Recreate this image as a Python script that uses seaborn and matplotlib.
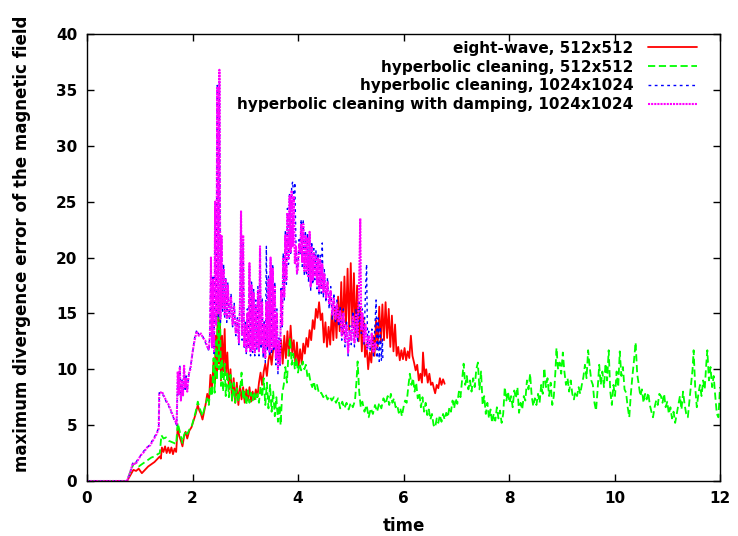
import matplotlib
matplotlib.use("Agg")
import matplotlib.pyplot as plt
import seaborn as sns
import pandas as pd

# ---------------- data (time, max divergence error) ----------------
eight_wave_512 = [
(0.00,0),(0.76,0),(0.82,0.5),(0.88,1.0),(0.93,0.9),(0.98,1.1),(1.04,0.7),(1.10,1.0),(1.16,1.3),(1.22,1.5),
(1.28,1.7),(1.34,2.0),(1.38,2.2),(1.40,2.0),(1.42,3.0),(1.45,2.6),(1.48,3.1),(1.51,2.5),(1.54,3.0),(1.57,2.5),
(1.60,3.0),(1.63,2.4),(1.66,2.9),(1.69,2.6),(1.72,4.8),(1.75,4.0),(1.78,3.6),(1.81,3.1),(1.84,4.0),(1.87,4.4),
(1.90,3.8),(1.94,4.5),(1.98,4.8),(2.02,5.4),(2.06,6.0),(2.10,6.8),(2.13,6.3),(2.16,6.0),(2.19,5.5),(2.22,6.2),
(2.25,6.9),(2.28,7.8),(2.31,7.0),(2.34,9.5),(2.37,8.3),(2.40,10.8),(2.42,8.8),(2.44,13.0),(2.46,9.5),(2.48,16.5),
(2.50,10.5),(2.52,14.6),(2.54,9.0),(2.56,13.0),(2.58,9.8),(2.61,13.6),(2.63,9.5),(2.66,11.5),(2.69,8.2),(2.72,10.0),
(2.75,7.2),(2.78,9.2),(2.81,7.0),(2.84,8.8),(2.87,6.8),(2.90,8.5),(2.93,7.3),(2.96,8.4),(2.99,7.0),(3.02,8.2),
(3.05,7.2),(3.08,8.4),(3.11,7.1),(3.14,8.0),(3.17,7.3),(3.20,8.2),(3.23,7.5),(3.26,8.8),(3.29,9.7),(3.32,8.6),
(3.35,9.8),(3.38,10.5),(3.41,9.4),(3.44,10.8),(3.47,11.5),(3.50,10.4),(3.53,11.8),(3.56,12.4),(3.59,11.0),(3.62,12.2),
(3.65,10.8),(3.68,12.6),(3.71,10.5),(3.74,13.0),(3.77,11.0),(3.80,13.4),(3.83,11.2),(3.86,13.9),(3.89,11.5),(3.92,12.6),
(3.95,10.4),(3.98,12.4),(4.01,10.2),(4.04,11.8),(4.07,10.5),(4.10,12.3),(4.13,11.4),(4.16,12.8),(4.19,12.0),(4.22,13.5),
(4.25,12.6),(4.28,14.4),(4.31,13.6),(4.34,15.4),(4.37,14.6),(4.40,16.0),(4.43,14.4),(4.46,15.0),(4.49,12.4),(4.52,14.2),
(4.55,12.0),(4.58,13.8),(4.61,12.2),(4.64,15.0),(4.67,12.6),(4.70,15.6),(4.73,12.8),(4.76,16.5),(4.79,13.4),(4.82,17.8),
(4.85,13.2),(4.88,18.3),(4.91,14.0),(4.94,19.0),(4.97,13.5),(5.00,19.5),(5.03,13.8),(5.06,18.6),(5.09,13.0),(5.12,17.5),
(5.15,12.5),(5.18,15.5),(5.21,11.6),(5.24,14.6),(5.27,11.1),(5.30,12.2),(5.33,10.0),(5.36,11.5),(5.39,10.6),(5.42,13.0),
(5.45,11.2),(5.48,14.4),(5.51,12.0),(5.54,15.6),(5.57,12.4),(5.60,15.8),(5.63,12.6),(5.66,16.0),(5.69,12.8),(5.72,15.4),
(5.75,12.0),(5.78,14.8),(5.81,11.6),(5.84,14.0),(5.87,11.2),(5.90,12.0),(5.93,10.8),(5.96,11.7),(5.99,10.9),(6.02,11.9),
(6.05,10.8),(6.08,11.6),(6.11,11.0),(6.14,13.0),(6.17,11.2),(6.20,10.6),(6.23,9.9),(6.26,10.4),(6.29,9.0),(6.32,9.6),
(6.35,8.8),(6.37,11.5),(6.40,9.4),(6.43,10.0),(6.46,8.8),(6.49,9.6),(6.52,8.6),(6.55,8.8),(6.58,8.2),(6.60,7.85),
(6.63,8.6),(6.66,8.3),(6.69,9.2),(6.72,8.6),(6.75,9.1),(6.78,8.7)]

hyperbolic_512 = [
(0.00,0),(0.76,0),(0.82,0.8),(0.88,1.5),(0.93,1.6),(0.98,1.3),(1.04,1.5),(1.10,1.7),(1.16,1.9),(1.22,2.1),
(1.28,2.2),(1.34,2.4),(1.38,2.5),(1.41,4.1),(1.45,3.8),(1.50,3.9),(1.55,3.6),(1.60,3.5),(1.65,3.4),(1.69,3.3),
(1.72,5.2),(1.75,4.6),(1.78,4.0),(1.81,3.4),(1.84,4.1),(1.87,4.5),(1.90,4.2),(1.94,4.6),(1.98,4.8),(2.02,5.5),
(2.06,6.2),(2.10,7.1),(2.13,6.6),(2.16,6.2),(2.19,5.8),(2.22,6.4),(2.25,6.9),(2.28,7.4),(2.31,6.8),(2.34,8.5),
(2.37,7.6),(2.40,11.0),(2.42,7.9),(2.44,12.5),(2.46,9.0),(2.48,17.0),(2.50,10.0),(2.52,16.0),(2.54,8.5),(2.56,11.0),
(2.58,8.0),(2.61,10.5),(2.63,7.6),(2.66,9.8),(2.69,7.5),(2.72,9.5),(2.75,7.2),(2.78,8.8),(2.81,7.0),(2.84,8.3),
(2.87,7.1),(2.90,8.0),(2.93,9.7),(2.96,7.3),(2.99,8.0),(3.02,6.8),(3.05,8.1),(3.08,7.0),(3.11,7.9),(3.14,7.2),
(3.17,8.0),(3.20,7.2),(3.23,7.8),(3.26,7.0),(3.29,8.5),(3.32,7.5),(3.35,9.2),(3.38,6.8),(3.41,8.8),(3.44,6.5),
(3.47,8.6),(3.50,6.2),(3.53,8.0),(3.56,5.8),(3.59,7.5),(3.62,5.3),(3.65,6.8),(3.67,5.0),(3.70,7.8),(3.73,8.6),
(3.76,10.2),(3.79,8.8),(3.82,11.5),(3.85,12.8),(3.88,10.4),(3.91,11.4),(3.94,10.0),(3.97,11.0),(4.00,9.7),(4.03,10.5),
(4.06,9.9),(4.09,10.7),(4.12,10.0),(4.15,10.4),(4.18,9.3),(4.21,9.6),(4.24,8.8),(4.27,8.4),(4.30,8.9),(4.33,8.2),
(4.36,8.6),(4.40,7.8),(4.44,7.9),(4.48,7.5),(4.52,7.8),(4.56,7.3),(4.60,7.6),(4.64,7.2),(4.68,7.5),(4.72,7.0),
(4.76,7.4),(4.80,6.5),(4.84,7.1),(4.88,6.5),(4.92,7.0),(4.96,6.4),(5.00,7.0),(5.04,6.6),(5.08,7.2),(5.11,9.0),
(5.13,10.7),(5.16,8.0),(5.19,6.6),(5.22,7.1),(5.26,6.2),(5.30,6.8),(5.34,5.7),(5.38,6.5),(5.42,6.0),(5.46,6.8),
(5.50,6.2),(5.54,7.0),(5.58,6.5),(5.62,7.4),(5.66,6.9),(5.70,7.6),(5.73,6.8),(5.76,7.8),(5.79,7.0),(5.82,7.4),
(5.85,6.6),(5.88,6.8),(5.91,6.1),(5.94,6.5),(5.97,5.8),(6.00,6.6),(6.03,7.2),(6.06,7.0),(6.09,8.4),(6.12,9.6),
(6.15,8.6),(6.18,9.2),(6.21,8.0),(6.24,8.8),(6.27,7.4),(6.30,7.9),(6.33,6.6),(6.36,7.5),(6.39,6.2),(6.42,7.0),
(6.45,5.9),(6.48,6.4),(6.51,5.5),(6.54,6.0),(6.57,5.0),(6.60,4.8),(6.63,5.6),(6.66,5.2),(6.69,5.9),(6.72,5.3),
(6.75,6.0),(6.78,5.5),(6.81,6.1),(6.84,5.7),(6.87,6.6),(6.90,6.2),(6.93,7.2),(6.96,6.5),(6.99,7.4),(7.02,6.9),
(7.05,8.0),(7.08,7.5),(7.11,9.0),(7.14,10.5),(7.17,8.6),(7.20,9.4),(7.23,8.2),(7.26,9.0),(7.29,8.0),(7.32,9.2),
(7.35,8.4),(7.38,10.0),(7.41,10.6),(7.44,8.2),(7.47,9.8),(7.50,6.8),(7.53,7.6),(7.56,6.0),(7.59,7.0),(7.62,5.6),
(7.65,6.4),(7.68,5.2),(7.71,6.0),(7.74,5.4),(7.77,6.6),(7.80,5.6),(7.83,6.3),(7.86,5.2),(7.89,6.0),(7.92,8.4),
(7.95,7.2),(7.98,8.0),(8.01,7.0),(8.04,7.6),(8.07,6.6),(8.10,8.1),(8.13,7.4),(8.16,8.4),(8.19,6.1),(8.22,7.0),
(8.25,6.4),(8.28,7.6),(8.31,7.2),(8.34,9.0),(8.37,8.2),(8.40,9.6),(8.43,7.6),(8.46,6.7),(8.49,7.4),(8.52,6.8),
(8.55,7.8),(8.58,7.0),(8.61,8.6),(8.64,7.8),(8.67,10.1),(8.70,8.4),(8.73,9.2),(8.76,7.6),(8.79,8.8),(8.82,6.8),
(8.85,7.6),(8.88,9.8),(8.90,11.9),(8.93,10.0),(8.96,10.6),(8.99,9.6),(9.02,11.5),(9.05,9.8),(9.08,8.6),(9.11,9.2),
(9.14,8.0),(9.17,9.0),(9.20,7.8),(9.23,7.3),(9.26,8.0),(9.29,7.6),(9.32,8.4),(9.35,7.8),(9.38,8.6),(9.41,9.3),
(9.44,10.4),(9.47,9.2),(9.50,11.7),(9.53,10.2),(9.56,9.0),(9.59,8.6),(9.62,7.0),(9.65,6.3),(9.68,8.2),(9.71,10.4),
(9.74,8.6),(9.77,9.8),(9.80,8.4),(9.83,10.5),(9.86,9.0),(9.89,11.7),(9.92,8.0),(9.95,6.8),(9.98,8.6),(10.01,7.6),
(10.04,9.8),(10.07,8.4),(10.10,11.6),(10.13,9.4),(10.16,10.2),(10.19,8.2),(10.22,7.9),(10.25,6.6),(10.28,5.7),(10.31,7.8),
(10.34,9.4),(10.37,10.8),(10.40,12.4),(10.43,9.6),(10.46,8.6),(10.49,7.6),(10.52,8.2),(10.55,7.0),(10.58,7.8),(10.61,7.3),
(10.64,7.9),(10.67,6.8),(10.70,6.2),(10.73,5.7),(10.76,6.6),(10.79,7.2),(10.82,6.8),(10.85,7.8),(10.88,7.6),(10.91,7.0),
(10.94,7.8),(10.97,6.6),(11.00,7.1),(11.03,6.0),(11.06,6.6),(11.09,5.6),(11.12,6.2),(11.15,5.2),(11.18,6.0),(11.21,6.8),
(11.24,7.6),(11.27,6.4),(11.30,8.0),(11.33,6.8),(11.36,6.0),(11.39,5.7),(11.42,7.2),(11.45,8.6),(11.48,10.0),(11.50,11.7),
(11.53,8.4),(11.56,6.6),(11.59,7.8),(11.62,8.6),(11.65,7.6),(11.68,9.0),(11.71,8.2),(11.74,10.5),(11.76,11.7),(11.79,9.0),
(11.82,10.2),(11.85,8.4),(11.88,9.4),(11.91,7.6),(11.94,6.0),(11.97,5.7),(12.00,8.4)]

hyperbolic_1024 = [
(0.00,0),(0.76,0),(0.82,0.8),(0.87,1.6),(0.92,1.6),(0.97,2.0),(1.02,2.3),(1.08,2.7),(1.14,3.0),(1.20,3.3),
(1.26,3.8),(1.32,4.3),(1.36,4.8),(1.37,7.9),(1.42,7.9),(1.46,7.5),(1.50,7.1),(1.55,6.7),(1.60,6.1),(1.65,5.5),
(1.70,5.0),(1.72,9.6),(1.74,7.7),(1.76,10.4),(1.78,7.3),(1.80,9.2),(1.82,7.5),(1.84,10.2),(1.86,8.2),(1.88,9.4),
(1.90,8.1),(1.93,9.5),(1.96,10.2),(2.00,11.4),(2.04,12.8),(2.08,13.5),(2.12,13.1),(2.16,13.0),(2.20,12.9),(2.24,12.4),
(2.28,12.1),(2.31,11.6),(2.33,13.2),(2.35,19.6),(2.37,11.8),(2.39,18.4),(2.41,11.4),(2.43,24.5),(2.45,13.8),(2.47,35.4),
(2.49,14.6),(2.51,35.8),(2.53,14.2),(2.55,21.5),(2.57,15.2),(2.59,19.4),(2.61,14.6),(2.63,18.2),(2.65,14.2),(2.67,17.8),
(2.70,14.4),(2.73,16.8),(2.76,13.8),(2.79,15.9),(2.82,13.0),(2.85,14.6),(2.88,12.2),(2.90,16.4),(2.92,23.8),(2.94,12.6),
(2.96,21.6),(2.98,11.8),(3.00,14.2),(3.02,11.4),(3.04,15.4),(3.06,11.8),(3.08,19.2),(3.10,11.2),(3.12,17.8),(3.14,11.5),
(3.16,17.2),(3.18,11.2),(3.20,16.2),(3.22,11.8),(3.24,17.4),(3.26,11.2),(3.28,20.6),(3.30,11.8),(3.32,16.4),(3.34,11.0),
(3.36,14.4),(3.38,10.6),(3.40,21.0),(3.42,11.6),(3.44,18.4),(3.46,11.2),(3.48,19.6),(3.50,11.4),(3.52,19.4),(3.54,11.6),
(3.56,17.8),(3.58,10.4),(3.60,15.4),(3.62,9.6),(3.64,12.8),(3.66,10.2),(3.68,17.4),(3.70,13.8),(3.72,20.4),(3.74,16.2),
(3.76,22.4),(3.78,17.6),(3.80,24.4),(3.82,19.4),(3.84,25.8),(3.86,20.2),(3.88,26.4),(3.90,26.8),(3.92,25.0),(3.94,26.7),
(3.96,21.4),(3.98,18.4),(4.00,19.4),(4.02,21.6),(4.04,20.2),(4.06,23.4),(4.08,19.2),(4.10,23.4),(4.12,18.4),(4.14,22.4),
(4.16,18.4),(4.18,22.2),(4.20,17.8),(4.22,22.0),(4.24,17.0),(4.26,21.4),(4.28,17.6),(4.30,20.8),(4.32,18.0),(4.34,20.6),
(4.36,17.2),(4.38,20.4),(4.40,16.6),(4.42,20.2),(4.44,16.8),(4.46,21.3),(4.48,16.4),(4.50,18.9),(4.53,16.0),(4.56,18.2),
(4.59,15.4),(4.62,17.4),(4.65,14.4),(4.68,16.8),(4.71,14.1),(4.74,16.2),(4.77,13.8),(4.80,15.6),(4.83,12.6),(4.86,15.4),
(4.89,12.0),(4.92,14.4),(4.95,11.2),(4.98,13.9),(5.01,12.2),(5.04,15.2),(5.07,12.0),(5.10,15.4),(5.13,12.4),(5.16,16.0),
(5.18,14.0),(5.20,13.2),(5.22,15.4),(5.25,12.2),(5.28,17.0),(5.30,19.4),(5.32,11.8),(5.34,13.4),(5.37,11.6),(5.40,13.6),
(5.43,11.2),(5.46,14.0),(5.48,16.2),(5.50,11.0),(5.52,14.6),(5.54,10.7),(5.56,13.8),(5.58,10.8),(5.60,12.7),(5.61,10.7)]

hyperbolic_damping_1024 = [
(0.00,0),(0.76,0),(0.82,0.8),(0.87,1.6),(0.92,1.5),(0.97,1.9),(1.02,2.3),(1.08,2.6),(1.14,3.0),(1.20,3.2),
(1.26,3.7),(1.32,4.2),(1.36,4.7),(1.37,7.8),(1.42,8.0),(1.46,7.6),(1.50,7.2),(1.55,6.8),(1.60,6.2),(1.65,5.6),
(1.70,5.1),(1.72,9.8),(1.74,7.8),(1.76,10.2),(1.78,7.2),(1.80,9.0),(1.82,7.6),(1.84,10.4),(1.86,8.4),(1.88,9.2),
(1.90,8.0),(1.93,9.6),(1.96,10.0),(2.00,11.5),(2.04,12.6),(2.08,13.4),(2.12,13.0),(2.16,13.2),(2.20,12.8),(2.24,12.6),
(2.28,12.0),(2.31,11.8),(2.33,13.0),(2.35,20.0),(2.37,12.0),(2.39,18.0),(2.41,11.5),(2.43,25.0),(2.45,14.0),(2.47,35.2),
(2.49,15.0),(2.51,36.8),(2.53,14.5),(2.55,22.0),(2.57,15.5),(2.59,19.0),(2.61,14.8),(2.63,18.0),(2.65,14.5),(2.67,17.5),
(2.70,14.6),(2.73,16.5),(2.76,14.0),(2.79,15.6),(2.82,13.2),(2.85,14.4),(2.88,12.4),(2.90,16.0),(2.92,24.2),(2.94,13.0),
(2.96,22.0),(2.98,12.0),(3.00,14.0),(3.02,11.6),(3.04,15.0),(3.06,12.0),(3.08,19.5),(3.10,11.5),(3.12,17.5),(3.14,11.8),
(3.16,16.8),(3.18,11.5),(3.20,15.8),(3.22,12.0),(3.24,17.0),(3.26,11.6),(3.28,21.0),(3.30,12.2),(3.32,16.0),(3.34,11.4),
(3.36,14.0),(3.38,11.0),(3.40,16.0),(3.42,12.0),(3.44,18.0),(3.46,11.5),(3.48,20.0),(3.50,11.8),(3.52,19.0),(3.54,12.0),
(3.56,17.5),(3.58,11.0),(3.60,15.0),(3.62,10.0),(3.64,12.5),(3.66,10.5),(3.68,17.0),(3.70,14.0),(3.72,20.0),(3.74,16.5),
(3.76,22.0),(3.78,18.0),(3.80,24.0),(3.82,19.8),(3.84,25.5),(3.86,20.5),(3.88,26.0),(3.90,21.0),(3.92,25.5),(3.94,19.5),
(3.96,21.0),(3.98,18.6),(4.00,19.0),(4.02,21.2),(4.04,20.5),(4.06,23.0),(4.08,19.6),(4.10,23.0),(4.12,18.8),(4.14,22.0),
(4.16,18.8),(4.18,21.8),(4.20,18.2),(4.22,22.3),(4.24,17.4),(4.26,21.0),(4.28,18.0),(4.30,20.4),(4.32,18.4),(4.34,20.2),
(4.36,17.6),(4.38,20.0),(4.40,17.0),(4.42,19.8),(4.44,17.2),(4.46,19.4),(4.48,16.8),(4.50,18.5),(4.53,16.4),(4.56,17.8),
(4.59,15.8),(4.62,17.0),(4.65,14.8),(4.68,16.4),(4.71,14.5),(4.74,15.8),(4.77,14.2),(4.80,15.2),(4.83,13.0),(4.86,15.0),
(4.89,12.4),(4.92,14.0),(4.95,11.5),(4.98,13.5),(5.01,12.6),(5.04,14.8),(5.07,12.4),(5.10,15.0),(5.13,12.8),(5.16,18.0),
(5.18,23.5),(5.20,13.5),(5.22,15.0),(5.25,12.5),(5.28,14.0),(5.31,11.8),(5.34,13.0),(5.37,12.0),(5.40,13.2),(5.43,11.5),
(5.46,12.4),(5.50,11.8)]

series_labels = ["eight-wave, 512x512",
                 "hyperbolic cleaning, 512x512",
                 "hyperbolic cleaning, 1024x1024",
                 "hyperbolic cleaning with damping, 1024x1024"]
series_data = [eight_wave_512, hyperbolic_512, hyperbolic_1024, hyperbolic_damping_1024]
x_ticks = [0, 2, 4, 6, 8, 10, 12]
y_ticks = [0, 5, 10, 15, 20, 25, 30, 35, 40]
x_label = "time"
y_label = "maximum divergence error of the magnetic field"

# ---------------- styling ----------------
colors = ["#ff0000", "#00ff00", "#0000ff", "#ff00ff"]
dash_styles = [None, (4, 2), (2, 2.5), (1, 0.5)]
widths = [1.3, 1.3, 1.0, 1.5]

sns.set_theme(style="white")
plt.rcParams["font.family"] = ["DejaVu Sans"]
plt.rcParams["font.weight"] = "bold"
for key in ["text.color", "axes.labelcolor", "xtick.color", "ytick.color", "axes.edgecolor"]:
    plt.rcParams[key] = "black"

fig = plt.figure(figsize=(7.38, 5.36), dpi=100)
ax = fig.add_axes([87/738, 1-481/536, (720-87)/738, (481-34)/536])

handles = []
for data, label, col, ds, w in zip(series_data, series_labels, colors, dash_styles, widths):
    df = pd.DataFrame(data, columns=["time", "err"])
    sns.lineplot(data=df, x="time", y="err", ax=ax, color=col, lw=w,
                 estimator=None, sort=False, errorbar=None, legend=False)
    ln = ax.lines[-1]
    if ds is not None:
        ln.set_dashes(ds)
    handles.append(ln)

ax.set_xlim(0, 12)
ax.set_ylim(0, 40)
ax.set_xticks(x_ticks)
ax.set_yticks(y_ticks)
ax.set_xticklabels([str(t) for t in x_ticks], fontsize=11, fontweight="bold", color="black")
ax.set_yticklabels([str(t) for t in y_ticks], fontsize=11, fontweight="bold", color="black")
ax.tick_params(axis="both", direction="in", length=5, width=1, color="black",
               top=True, right=True, bottom=True, left=True)
ax.tick_params(axis="y", pad=7)
ax.tick_params(axis="x", pad=7)
for sp in ax.spines.values():
    sp.set_color("black")
    sp.set_linewidth(1.0)
ax.set_xlabel(x_label, fontsize=12, fontweight="bold", color="black", labelpad=8)
ax.set_ylabel(y_label, fontsize=12, fontweight="bold", color="black")
ax.yaxis.set_label_coords(-0.088, 0.531)
ax.grid(False)

leg = ax.legend(handles, series_labels, loc="upper right",
                bbox_to_anchor=(0.9637, 0.985), frameon=False, markerfirst=False,
                fontsize=11, handlelength=3.2, handletextpad=0.95,
                labelspacing=0.25, borderpad=0, borderaxespad=0)
for t in leg.get_texts():
    t.set_fontweight("bold")
    t.set_color("black")

fig.savefig("out.png", dpi=100)
